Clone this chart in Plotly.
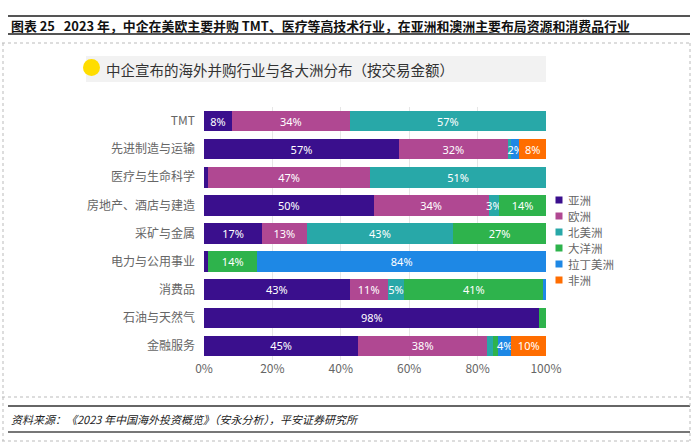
import plotly.graph_objects as go

categories = ["TMT", "先进制造与运输", "医疗与生命科学", "房地产、酒店与建造", "采矿与金属",
              "电力与公用事业", "消费品", "石油与天然气", "金融服务"]
series_names = ["亚洲", "欧洲", "北美洲", "大洋洲", "拉丁美洲", "非洲"]
asia =     [8.2, 57.0, 1.2, 49.6, 17.0, 1.2, 42.6, 98.1, 45.1]
europe =   [34.4, 31.8, 47.4, 33.6, 13.0, 0.0, 11.1, 0.0, 37.7]
namerica = [57.4, 1.0, 51.4, 3.1, 42.9, 0.0, 4.9, 0.0, 1.6]
oceania =  [0.0, 0.0, 0.0, 13.7, 27.1, 14.4, 40.6, 1.9, 1.6]
latam =    [0.0, 2.4, 0.0, 0.0, 0.0, 84.4, 0.8, 0.0, 3.9]
africa =   [0.0, 7.8, 0.0, 0.0, 0.0, 0.0, 0.0, 0.0, 10.1]
series_values = [asia, europe, namerica, oceania, latam, africa]
colors = ["#3a0f8d", "#b04892", "#28a8a8", "#2eb34c", "#1e88e5", "#ff6d00"]
tick_vals = [0, 20, 40, 60, 80, 100]
tick_text = ["0%", "20%", "40%", "60%", "80%", "100%"]

title_text = "图表 25   2023 年，中企在美欧主要并购 TMT、医疗等高技术行业，在亚洲和澳洲主要布局资源和消费品行业"
subtitle_text = "中企宣布的海外并购行业与各大洲分布（按交易金额）"
source_text = "资料来源：《2023 年中国海外投资概览》（安永分析），平安证券研究所"

W, H = 700, 445
L, R, T, B = 204, 546, 107, 360

def px(x):
    return (x - L) / (R - L)

def py(y):
    return (B - y) / (B - T)

fig = go.Figure()
for name, vals, col in zip(series_names, series_values, colors):
    labels = [f"{round(v)}%" if v >= 2 else "" for v in vals]
    fig.add_trace(go.Bar(
        y=categories, x=vals, name=name, orientation="h",
        marker=dict(color=col, line=dict(width=0)),
        text=labels, texttemplate="%{text}", textposition="inside",
        insidetextanchor="middle", textangle=0,
        textfont=dict(color="white", size=11, family="Noto Sans, Noto Sans CJK SC"),
        hoverinfo="skip", cliponaxis=False, showlegend=False,
    ))

shapes = []
for yy, w, c in [(16, 2, "#555555"), (34, 2, "#555555"), (406, 1.5, "#333333"), (432, 2, "#777777")]:
    shapes.append(dict(type="line", xref="paper", yref="paper",
                       x0=px(8), x1=px(690), y0=py(yy), y1=py(yy),
                       line=dict(color=c, width=w)))
for yy in [43, 397, 441]:
    shapes.append(dict(type="line", xref="paper", yref="paper",
                       x0=px(2), x1=px(690), y0=py(yy), y1=py(yy),
                       line=dict(color="#bbbbbb", width=1, dash="dot")))
for xx in [3, 690]:
    shapes.append(dict(type="line", xref="paper", yref="paper",
                       x0=px(xx), x1=px(xx), y0=py(43), y1=py(441),
                       line=dict(color="#bbbbbb", width=1, dash="dot")))
shapes.append(dict(type="rect", xref="paper", yref="paper",
                   x0=px(86), x1=px(546), y0=py(56), y1=py(82),
                   fillcolor="#f2f2f2", line=dict(width=0), layer="below"))
shapes.append(dict(type="circle", xref="paper", yref="paper",
                   x0=px(83), x1=px(100), y0=py(59), y1=py(76),
                   fillcolor="#ffdd00", line=dict(width=0)))

annotations = [
    dict(text=f"<b>{title_text}</b>", xref="paper", yref="paper",
         x=px(9), y=py(25), xanchor="left", yanchor="middle", showarrow=False,
         font=dict(size=12.9, color="#111111", family="Noto Sans CJK SC")),
    dict(text=subtitle_text, xref="paper", yref="paper",
         x=px(104), y=py(69), xanchor="left", yanchor="middle", showarrow=False,
         font=dict(size=14.5, color="#333333", family="Noto Sans CJK SC")),
    dict(text=f"<i>{source_text}</i>", xref="paper", yref="paper",
         x=px(9), y=py(419), xanchor="left", yanchor="middle", showarrow=False,
         font=dict(size=11, color="#222222", family="Noto Sans CJK SC")),
]

# custom legend (tighter spacing than plotly's built-in legend allows)
leg_x, leg_y0, leg_dy, sq = 559, 200, 16, 7
for i, (name, col) in enumerate(zip(series_names, colors)):
    cy = leg_y0 + i * leg_dy
    shapes.append(dict(type="rect", xref="paper", yref="paper",
                       x0=px(leg_x - sq / 2), x1=px(leg_x + sq / 2),
                       y0=py(cy - sq / 2), y1=py(cy + sq / 2),
                       fillcolor=col, line=dict(width=0)))
    annotations.append(dict(text=name, xref="paper", yref="paper",
                            x=px(leg_x + 7), y=py(cy), xanchor="left", yanchor="middle",
                            showarrow=False,
                            font=dict(size=11.5, color="#666666", family="Noto Sans CJK SC")))

fig.update_layout(
    width=W, height=H,
    margin=dict(l=L, r=W - R, t=T, b=H - B, autoexpand=False),
    barmode="stack", bargap=0.27,
    plot_bgcolor="white", paper_bgcolor="white",
    font=dict(family="Noto Sans CJK SC", color="#595959", size=12),
    showlegend=False,
    uniformtext=dict(minsize=11, mode="show"),
    xaxis=dict(range=[0, 100.01], tickvals=tick_vals, ticktext=tick_text,
               showgrid=True, gridcolor="#e6e6e6", zeroline=False,
               showline=False, ticks="", tickfont=dict(size=12, color="#666666"),
               fixedrange=True),
    yaxis=dict(autorange="reversed", showgrid=False, ticks="", showline=False,
               tickfont=dict(size=12, color="#666666"), ticksuffix="   "),
    shapes=shapes, annotations=annotations,
)

fig.write_html("out.html", config={"displayModeBar": False},
               post_script="document.body.style.margin='0';")
